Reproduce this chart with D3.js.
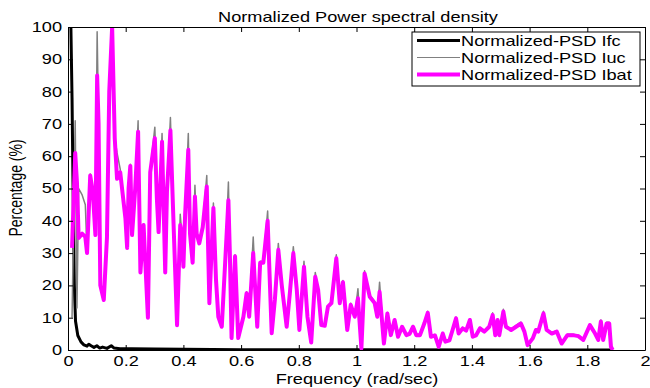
<!DOCTYPE html>
<html><head><meta charset="utf-8">
<script src="https://cdn.jsdelivr.net/npm/d3@7"></script>
<style>body{margin:0;background:#fff} svg text{font-family:"Liberation Sans",Arial,sans-serif}</style>
</head><body><svg id="c" width="650" height="388"></svg>
<script>
// ---- data ----
const freq = [
 0.014,0.025,0.031,0.037,0.049,0.060,0.066,0.077,0.086,0.095,
 0.101,0.106,0.112,0.124,0.135,0.143,0.153,0.162,0.170,0.181,
 0.199,0.205,0.210,0.216,0.222,0.233,0.243,0.251,0.262,0.277,
 0.285,0.301,0.308,0.314,0.326,0.337,0.343,0.355,0.366,0.378,
 0.389,0.394,0.400,0.406,0.417,0.423,0.432,0.440,0.446,0.455,
 0.467,0.481,0.490,0.504,0.513,0.521,0.533,0.544,0.556,0.561,
 0.567,0.579,0.590,0.608,0.619,0.628,0.642,0.656,0.666,0.677,
 0.692,0.706,0.717,0.729,0.741,0.758,0.769,0.781,0.793,0.802,
 0.818,0.830,0.843,0.857,0.867,0.878,0.890,0.901,0.913,0.930,
 0.942,0.953,0.968,0.980,0.994,1.005,1.017,1.028,1.046,1.063,
 1.072,1.080,1.095,1.107,1.119,1.132,1.144,1.158,1.173,1.184,
 1.196,1.207,1.220,1.235,1.247,1.258,1.272,1.285,1.299,1.308,
 1.322,1.333,1.345,1.354,1.368,1.380,1.393,1.403,1.414,1.428,
 1.443,1.460,1.472,1.481,1.489,1.495,1.509,1.518,1.536,1.553,
 1.570,1.582,1.593,1.611,1.622,1.630,1.648,1.659,1.677,1.694,
 1.711,1.731,1.750,1.769,1.786,1.809,1.827,1.838,1.847,1.855,
 1.867,1.876,1.882,1.888];
const ibat = [
 31.6,61,52,34.7,36,35,30,54,49,35.6,
 85,70,20,15.5,34.7,80,100,65.6,53,55,
 40.8,31.6,50,57,35.6,50,67.6,24,38.7,10,
 55,65.6,47,36.5,64.5,24,49,68,38.7,7.7,
 38.7,36,25.8,42,62,36,27,47.5,36,33,
 38,50.6,14.5,44,21.7,10.3,7.2,25.8,46.4,30,
 3.7,29,3.7,10.3,17.6,10.3,30,7.2,27,27,
 40,5.2,15.5,31,20,7.2,17.6,30,18.6,6.2,
 25.8,10.3,2.3,22.7,18.6,7.7,7.5,13.4,14.5,28.4,
 14.5,21,6.2,14,10.3,16,0.5,23.7,16.5,14.5,
 10.3,18,2,11.3,4.6,9.3,4.1,7.2,4.6,5,
 7.2,4.6,4.6,8.2,11.5,4.1,4.5,1,5.1,2.6,
 3,6.2,9.8,5.1,6.7,6,9.3,4.1,4.5,6.7,
 5.7,7.2,10.8,4.6,9.3,4.6,11.9,7.2,6.2,7.2,
 8.2,5.7,1.5,3.6,6.2,5.7,11.3,6.2,5.1,5.7,
 2,4.6,4.6,4.3,3.1,7.7,5.1,3.1,8.8,3.1,
 8.2,8.2,1,0];
const iuc = [
 10,71,13,50,48,45,30,54.5,49.5,36,
 98.5,70.5,20,15.5,35,80.5,100,66,61,56,
 41,32,50.5,57.5,36,50.5,71,24,39,10,
 55.5,69,47.5,37,67,24.5,49.5,72,39,8,
 42,36.5,26,42.5,67,36.5,27.5,51,36.5,33.5,
 38.5,54,15,45.5,22,10.5,7.5,26,52,30.5,
 4,29.5,4,10.5,18,10.5,35,7.5,27.5,27.5,
 43,5.5,16,33,20.5,7.5,18,32,19,6.5,
 27.5,10.5,2.5,24,19,8,8,13.5,15,29.5,
 15,21.5,6.5,14.5,10.5,19,1,24.5,17,15,
 10.5,21,2.3,11.6,4.9,9.6,4.4,7.5,4.9,5.3,
 7.6,4.9,4.9,8.5,12,4.4,4.8,1.3,5.4,2.9,
 3.3,6.5,10.2,5.4,7,6.3,9.7,4.4,4.8,7,
 6,7.5,11.5,4.9,9.7,4.9,12.6,7.5,6.5,7.6,
 8.6,6,1.8,3.9,6.5,6,12,6.5,5.4,6,
 2.3,4.9,4.9,4.6,3.4,8,5.4,3.4,9.3,3.4,
 8.6,8.6,1.2,0];
const ifcFreq = [0.005,0.010,0.014,0.017,0.022,0.026,0.034,0.045,0.055,0.066,0.072,0.080,0.090,0.100,0.110,0.120,0.135,0.150,0.160,0.180,0.220,0.300,0.400,0.600,1.000,1.888];
const ifc = [100,100,78,54,20,9,4.5,2.5,1.6,1.2,1.8,1.3,0.8,1.3,0.6,0.9,0.5,1.3,0.6,0.4,0.4,0.3,0.2,0.1,0.05,0];
const xTicks = [0,0.2,0.4,0.6,0.8,1,1.2,1.4,1.6,1.8,2];
const yTicks = [0,10,20,30,40,50,60,70,80,90,100];
const seriesNames = ["Normalized-PSD Ifc","Normalized-PSD Iuc","Normalized-PSD Ibat"];
const seriesColors = ["#000000","#808080","#ff00ff"];
const seriesWidths = [3,1.5,4];
const titleText = "Normalized Power spectral density";
const xLabel = "Frequency (rad/sec)";
const yLabel = "Percentage (%)";

// ---- chart ----
const SX = 1.3;
const svg = d3.select("#c");
svg.append("rect").attr("width",650).attr("height",388).attr("fill","#fff");
const x = d3.scaleLinear().domain([0,2]).range([68,645]);
const y = d3.scaleLinear().domain([0,100]).range([350,27]);

svg.append("clipPath").attr("id","clip").append("rect")
  .attr("x",68).attr("y",27).attr("width",577).attr("height",323);

const series = [
  ifcFreq.map((f,i)=>[f,ifc[i]]),
  freq.map((f,i)=>[f,iuc[i]]),
  freq.map((f,i)=>[f,ibat[i]])
];
const line = d3.line().x(d=>x(d[0])).y(d=>y(d[1]));
const g = svg.append("g").attr("clip-path","url(#clip)");
series.forEach((s,i)=>{
  g.append("path").datum(s).attr("d",line).attr("fill","none")
   .attr("stroke",seriesColors[i]).attr("stroke-width",seriesWidths[i])
   .attr("stroke-linejoin","round");
});

function styleAxis(a){
  a.selectAll("path").attr("stroke","#000");
  a.selectAll("line").attr("stroke","#000");
  a.attr("font-size",14).attr("font-family",null);
}
const bx = svg.append("g").attr("transform","translate(0,350)")
  .call(d3.axisBottom(x).tickValues(xTicks).tickFormat(d3.format("")).tickSizeInner(-5).tickSizeOuter(0).tickPadding(6));
styleAxis(bx);
bx.selectAll("text").attr("transform",`scale(${SX},1)`).attr("fill","#000");
const tx = svg.append("g").attr("transform","translate(0,27)")
  .call(d3.axisTop(x).tickValues(xTicks).tickFormat("").tickSizeInner(-5).tickSizeOuter(0));
styleAxis(tx);
const ly = svg.append("g").attr("transform","translate(68,0)")
  .call(d3.axisLeft(y).tickValues(yTicks).tickFormat(d3.format("")).tickSizeInner(-5).tickSizeOuter(0).tickPadding(6));
styleAxis(ly);
ly.selectAll("text").attr("x",-6/SX).attr("transform",`scale(${SX},1)`).attr("fill","#000");
const ry = svg.append("g").attr("transform","translate(645,0)")
  .call(d3.axisRight(y).tickValues(yTicks).tickFormat("").tickSizeInner(-5).tickSizeOuter(0));
styleAxis(ry);

svg.append("text").attr("transform",`translate(358,22) scale(${SX},1)`)
  .attr("text-anchor","middle").attr("font-size",14).text(titleText);
svg.append("text").attr("transform",`translate(357,384) scale(${SX},1)`)
  .attr("text-anchor","middle").attr("font-size",14).text(xLabel);
svg.append("text").attr("transform",`translate(22,188) scale(${SX},1) rotate(-90)`)
  .attr("text-anchor","middle").attr("font-size",14).text(yLabel);

// legend
const lg = svg.append("g");
lg.append("rect").attr("x",412).attr("y",32).attr("width",228).attr("height",54)
  .attr("fill","#fff").attr("stroke","#000").attr("stroke-width",1);
const rowsY = [40.5,57.5,74.5];
seriesNames.forEach((n,i)=>{
  lg.append("line").attr("x1",417).attr("x2",460).attr("y1",rowsY[i]).attr("y2",rowsY[i])
    .attr("stroke",seriesColors[i]).attr("stroke-width",seriesWidths[i]===1.5?1:seriesWidths[i]);
  lg.append("text").attr("transform",`translate(461,${rowsY[i]}) scale(${SX},1)`)
    .attr("dy","0.36em").attr("font-size",14).text(n);
});
</script></body></html>
